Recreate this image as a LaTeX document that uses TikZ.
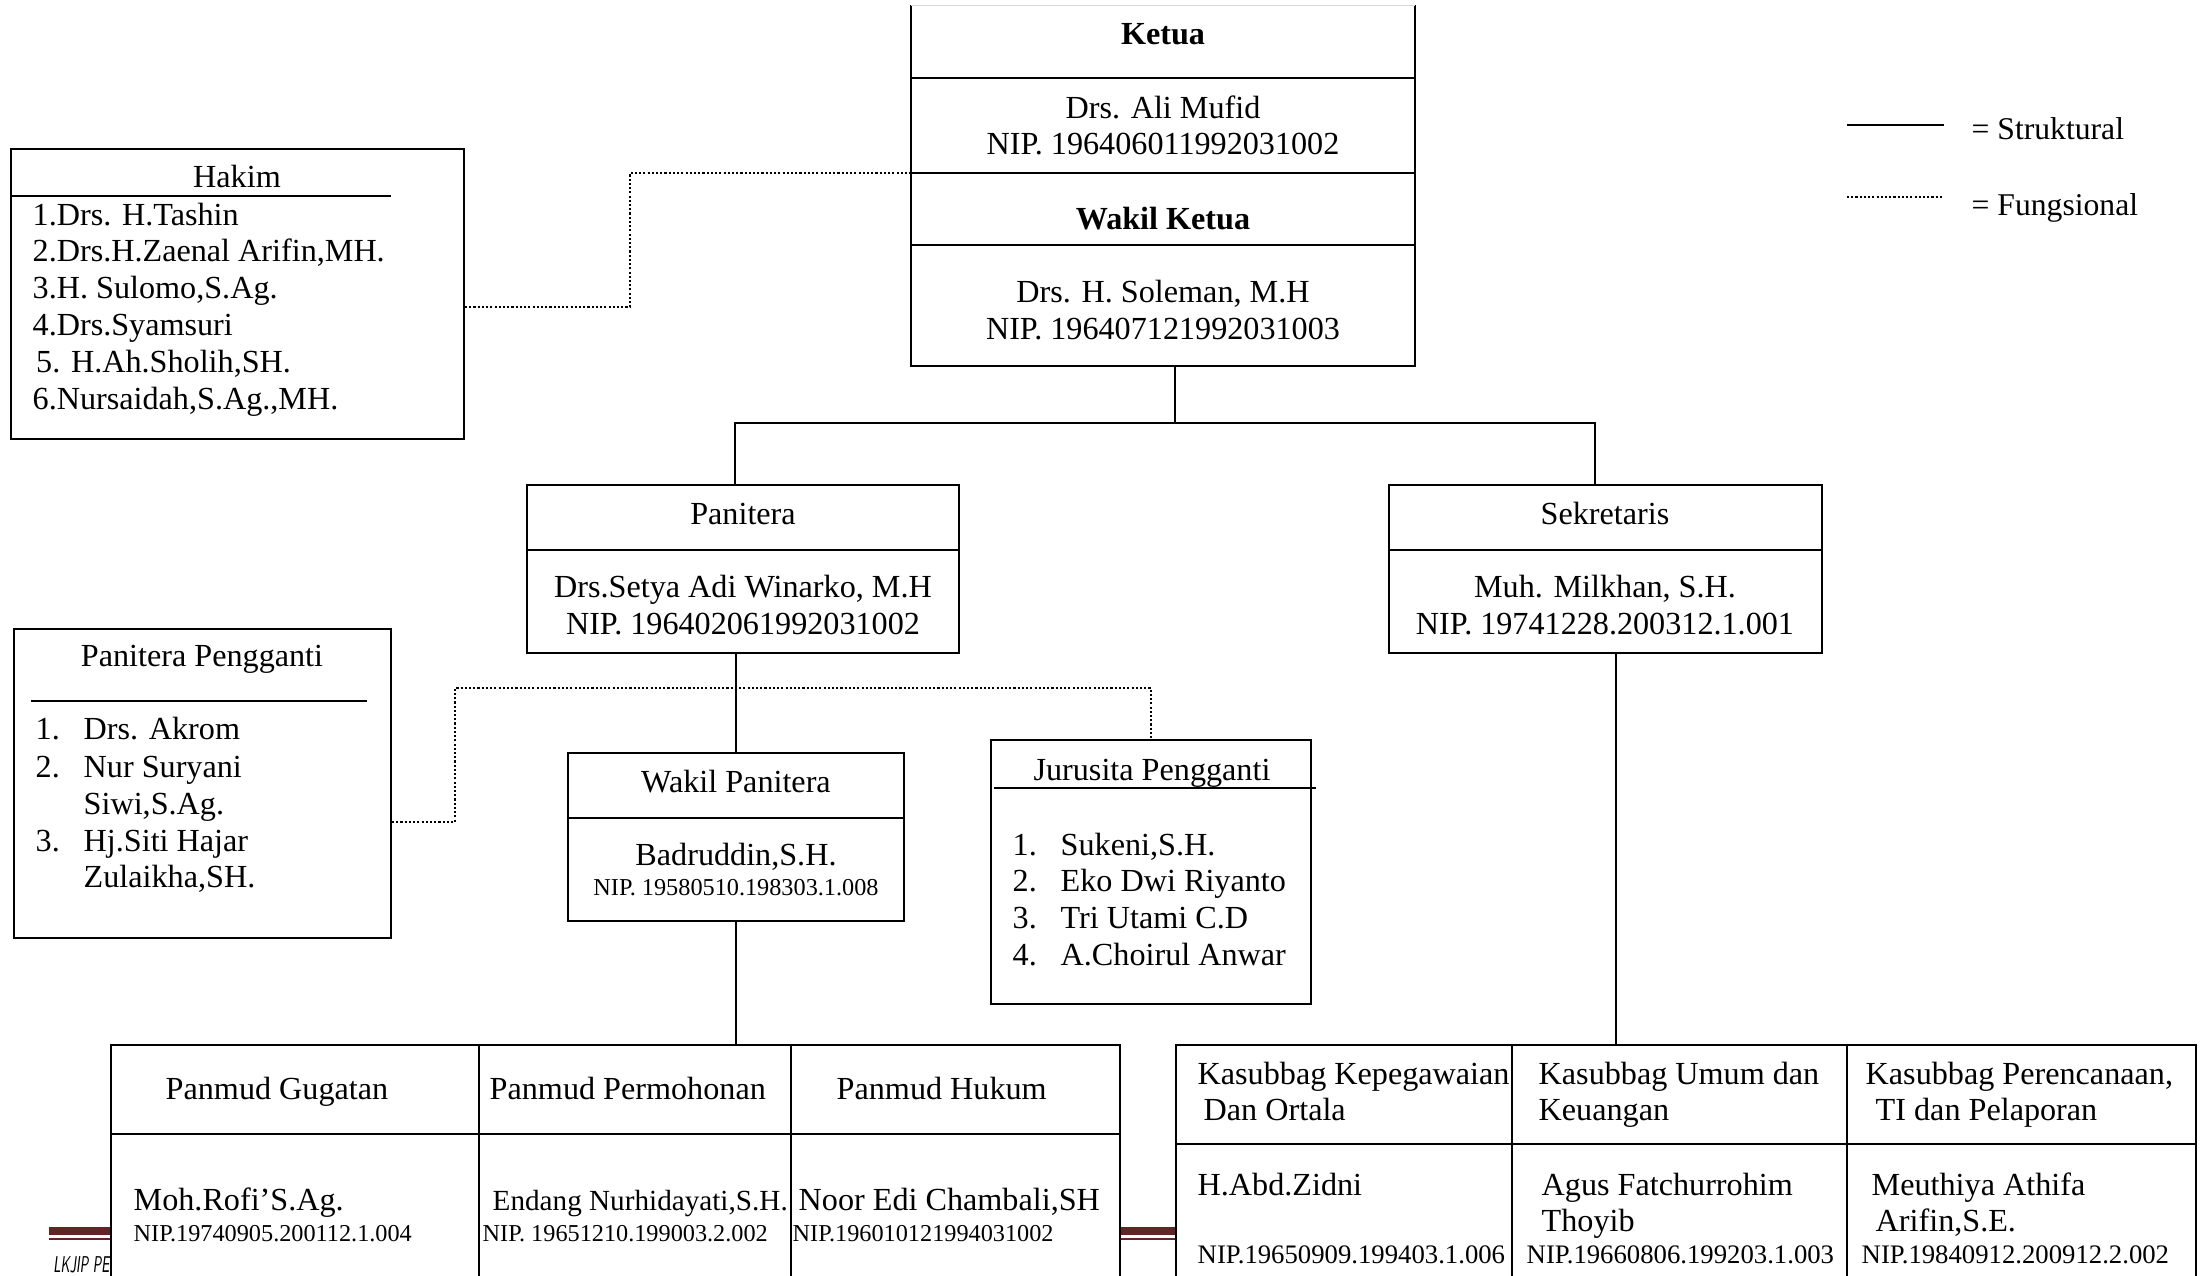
\documentclass[tikz,border=0pt]{standalone}
\usepackage{fontspec}
\setmainfont{Liberation Serif}
\usetikzlibrary{fit}
\definecolor{footred}{RGB}{99,37,35}

\tikzset{
  box/.style={draw, line width=0.6pt, inner sep=0pt},
  struktural/.style={line width=0.5pt},
  fungsional/.style={line width=0.6pt, dash pattern=on 0.6pt off 0.6pt},
  txt/.style={inner sep=0pt, anchor=base, font=\fontsize{9.15}{10.5}\selectfont},
  txtl/.style={txt, anchor=base west},
  nip/.style={inner sep=0pt, anchor=base west, font=\fontsize{6.9}{8}\selectfont},
}

\begin{document}
\begin{tikzpicture}[x=0.01cm, y=-0.01cm]
\useasboundingbox (0,0) rectangle (2211,1275);
\clip (0,0) rectangle (2211,1275);

% page footer, partly under the tables
\fill[footred] (49,1227) rectangle (1180,1235);
\fill[footred] (49,1238) rectangle (1180,1240);
\node[inner sep=0pt, anchor=base west, xscale=0.55, transform shape, font=\sffamily\itshape\fontsize{6.5}{7}\selectfont] (foot) at (53,1272) {LKJIP PE};

% Ketua / Wakil Ketua
\node[inner sep=0pt, fit={(912,6) (1414,365)}] (ketua) {};
\draw[box] (ketua.north west) -- (ketua.south west) -- (ketua.south east) -- (ketua.north east);
\draw[black!15, line width=0.4pt] (ketua.north west) -- (ketua.north east);
\foreach \y in {78,173,245}
  \draw[box] (ketua.west |- 0,\y) -- (ketua.east |- 0,\y);
\node[txt] (ketua-t) at (1163,44) {\textbf{Ketua}};
\node[txt] (ketua-n) at (1163,118) {Drs. Ali Mufid};
\node[txt] (ketua-nip) at (1163,154) {NIP. 196406011992031002};
\node[txt] (waka-t) at (1163,229) {\textbf{Wakil Ketua}};
\node[txt] (waka-n) at (1163,302) {Drs. H. Soleman, M.H};
\node[txt] (waka-nip) at (1163,339) {NIP. 196407121992031003};

% Hakim
\node[box, fit={(11,149) (464,439)}] (hakim) {};
\draw[box] (hakim.west |- 0,196) -- (391,196);
\node[txt] (hakim-t) at (237,187) {Hakim};
\foreach \t [count=\i] in {1.Drs. H.Tashin, {2.Drs.H.Zaenal Arifin,MH.}, {3.H. Sulomo,S.Ag.}, 4.Drs.Syamsuri, {\kern1pt 5. H.Ah.Sholih,SH.}, {6.Nursaidah,S.Ag.,MH.}}
  \node[txtl] (hakim-\i) at (32,{225+36.8*(\i-1)}) {\t};

% Panitera and Sekretaris
\node[box, fit={(527,485) (959,653)}] (panitera) {};
\draw[box] (panitera.west |- 0,550) -- (panitera.east |- 0,550);
\node[txt] (panitera-t) at (743,524) {Panitera};
\node[txt] (panitera-n) at (743,597) {Drs.Setya Adi Winarko, M.H};
\node[txt] (panitera-nip) at (743,634) {NIP. 196402061992031002};

\node[box, fit={(1389,485) (1822,653)}] (sekretaris) {};
\draw[box] (sekretaris.west |- 0,550) -- (sekretaris.east |- 0,550);
\node[txt] (sekretaris-t) at (1605,524) {Sekretaris};
\node[txt] (sekretaris-n) at (1605,597) {Muh. Milkhan, S.H.};
\node[txt] (sekretaris-nip) at (1605,634) {NIP. 19741228.200312.1.001};

% Wakil Panitera
\node[box, fit={(568,753) (904,921)}] (wakilpan) {};
\draw[box] (wakilpan.west |- 0,818) -- (wakilpan.east |- 0,818);
\node[txt] (wakilpan-t) at (736,792) {Wakil Panitera};
\node[txt] (wakilpan-n) at (736,865) {Badruddin,S.H.};
\node[nip, anchor=base] (wakilpan-nip) at (736,895) {NIP. 19580510.198303.1.008};

% Panitera Pengganti
\node[box, fit={(14,629) (391,938)}] (pp) {};
\draw[box] (31,701) -- (367,701);
\node[txt] (pp-t) at (202,666) {Panitera Pengganti};
\foreach \n/\y in {1./739, 2./777, 3./851}
  \node[txtl] (pp-n\n) at (35,\y) {\n};
\foreach \t/\y [count=\i] in {Drs. Akrom/739, Nur Suryani/777, {Siwi,S.Ag.}/814, Hj.Siti Hajar/851, {Zulaikha,SH.}/887}
  \node[txtl] (pp-\i) at (83,\y) {\t};

% Jurusita Pengganti
\node[box, fit={(991,740) (1311,1004)}] (jurusita) {};
\draw[box] (994,788) -- (1316,788);
\node[txt] (jurusita-t) at (1152,780) {Jurusita Pengganti};
\foreach \t [count=\i] in {{Sukeni,S.H.}, Eko Dwi Riyanto, Tri Utami C.D, A.Choirul Anwar} {
  \node[txtl] (jurusita-n\i) at (1012,{855+36.7*(\i-1)}) {\i.};
  \node[txtl] (jurusita-\i) at (1060,{855+36.7*(\i-1)}) {\t};
}

% Panmud
\node[box, fill=white, fit={(111,1045) (479,1300)}] (gugatan) {};
\node[box, fill=white, fit={(479,1045) (791,1300)}] (permohonan) {};
\node[box, fill=white, fit={(791,1045) (1120,1300)}] (hukum) {};
\draw[box] (gugatan.west |- 0,1134) -- (hukum.east |- 0,1134);
\node[txtl] (gugatan-t) at (165,1099) {Panmud Gugatan};
\node[txtl] (permohonan-t) at (489,1099) {Panmud Permohonan};
\node[txtl] (hukum-t) at (836,1099) {Panmud Hukum};
\node[txtl] (gugatan-n) at (133,1210) {Moh.Rofi’S.Ag.};
\node[txtl, font=\fontsize{8.3}{10}\selectfont] (permohonan-n) at (492,1210) {Endang Nurhidayati,S.H.};
\node[txtl] (hukum-n) at (798,1210) {Noor Edi Chambali,SH};
\node[nip] (gugatan-nip) at (133,1241) {NIP.19740905.200112.1.004};
\node[nip] (permohonan-nip) at (482,1241) {NIP. 19651210.199003.2.002};
\node[nip] (hukum-nip) at (792,1241) {NIP.196010121994031002};

% Kasubbag
\node[box, fill=white, fit={(1176,1045) (1512,1300)}] (kepeg) {};
\node[box, fill=white, fit={(1512,1045) (1847,1300)}] (umum) {};
\node[box, fill=white, fit={(1847,1045) (2196,1300)}] (renc) {};
\draw[box] (kepeg.west |- 0,1144) -- (renc.east |- 0,1144);
\node[txtl] (kepeg-t1) at (1197,1084) {Kasubbag Kepegawaian};
\node[txtl] (kepeg-t2) at (1203,1120) {Dan Ortala};
\node[txtl] (umum-t1) at (1538,1084) {Kasubbag Umum dan};
\node[txtl] (umum-t2) at (1538,1120) {Keuangan};
\node[txtl] (renc-t1) at (1865,1084) {Kasubbag Perencanaan,};
\node[txtl] (renc-t2) at (1875,1120) {TI dan Pelaporan};
\node[txtl] (kepeg-n) at (1197,1195) {H.Abd.Zidni};
\node[txtl] (umum-n1) at (1541,1195) {Agus Fatchurrohim};
\node[txtl] (umum-n2) at (1541,1231) {Thoyib};
\node[txtl] (renc-n1) at (1871,1195) {Meuthiya Athifa};
\node[txtl] (renc-n2) at (1875,1231) {Arifin,S.E.};
\node[nip, font=\fontsize{7.6}{9}\selectfont] (kepeg-nip) at (1197,1263) {NIP.19650909.199403.1.006};
\node[nip, font=\fontsize{7.6}{9}\selectfont] (umum-nip) at (1526,1263) {NIP.19660806.199203.1.003};
\node[nip, font=\fontsize{7.6}{9}\selectfont] (renc-nip) at (1861,1263) {NIP.19840912.200912.2.002};

% garis struktural
\coordinate (split) at (1175,423);
\draw[struktural] (ketua.south -| split) -- (split);
\draw[struktural] (panitera.north -| 735,0) -- (735,423) -- (1595,423) -- (sekretaris.north -| 1595,0);
\draw[struktural] (panitera.south -| wakilpan.north) -- (wakilpan.north);
\draw[struktural] (wakilpan.south) -- (wakilpan.south |- permohonan.north);
\draw[struktural] (sekretaris.south -| 1616,0) -- (umum.north -| 1616,0);

% garis fungsional
\draw[fungsional] (hakim.east |- 0,307) -| (630,173) -- (ketua.west |- 0,173);
\draw[fungsional] (pp.east |- 0,822) -| (455,688) -| (jurusita.north);

% keterangan
\coordinate (leg-s1) at (1847,125);
\coordinate (leg-s2) at (1944,125);
\draw[line width=0.7pt] (leg-s1) -- (leg-s2);
\node[txtl, font=\fontsize{9}{10}\selectfont] (leg-s) at (1971,139) {= Struktural};
\coordinate (leg-f1) at (1847,197);
\coordinate (leg-f2) at (1944,197);
\draw[fungsional] (leg-f1) -- (leg-f2);
\node[txtl, font=\fontsize{9}{10}\selectfont] (leg-f) at (1971,215) {= Fungsional};
\end{tikzpicture}
\end{document}
